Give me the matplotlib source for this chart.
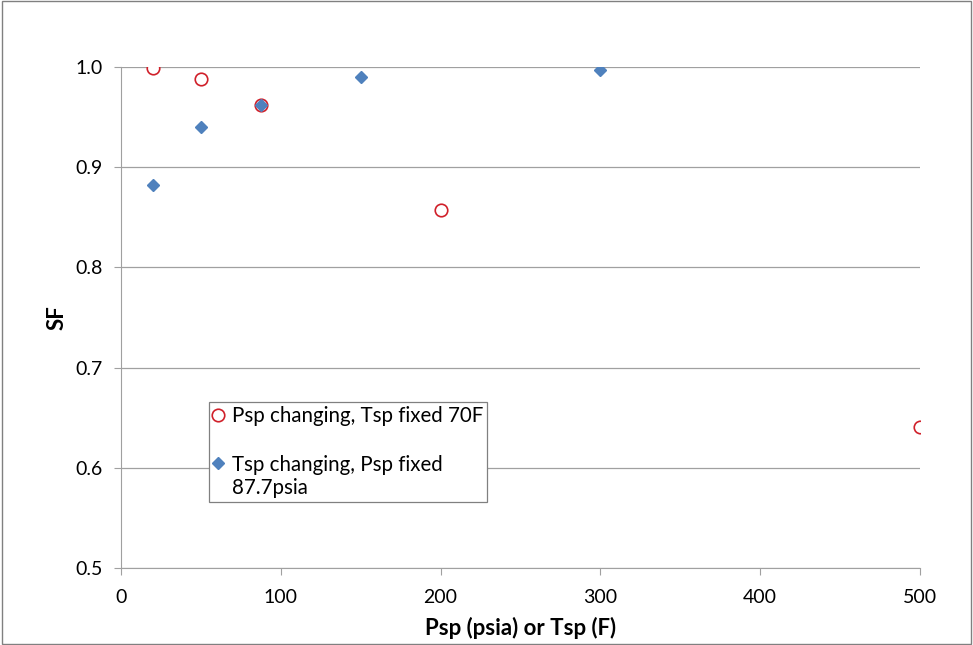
import matplotlib.pyplot as plt

plt.rcParams['font.family'] = ['Lato', 'DejaVu Sans']

# Psp changing, Tsp fixed 70F
psp_x = [20, 50, 87.7, 200, 500]
psp_sf = [0.999, 0.988, 0.962, 0.857, 0.641]

# Tsp changing, Psp fixed 87.7psia
tsp_x = [20, 50, 87.7, 150, 300]
tsp_sf = [0.882, 0.940, 0.962, 0.990, 0.997]

fig = plt.figure(figsize=(9.73, 6.45), dpi=100)
ax = fig.add_axes([121/973, 1 - 568/645, 799/973, 501/645])

ax.plot(psp_x, psp_sf, linestyle='none', marker='o', markersize=9,
        markerfacecolor='white', markeredgecolor='#D0202A', markeredgewidth=1.2,
        label='Psp changing, Tsp fixed 70F', zorder=3)
ax.plot(tsp_x, tsp_sf, linestyle='none', marker='D', markersize=6,
        markerfacecolor='#4F81BD', markeredgecolor='#4F81BD',
        label='Tsp changing, Psp fixed\n87.7psia', zorder=4)

ax.set_xlim(0, 500)
ax.set_ylim(0.5, 1.0)
ax.set_xticks([0, 100, 200, 300, 400, 500])
ax.set_yticks([0.5, 0.6, 0.7, 0.8, 0.9, 1.0])
ax.set_yticklabels(['0.5', '0.6', '0.7', '0.8', '0.9', '1.0'])
ax.yaxis.grid(True, color='#A0A0A0', linewidth=0.9)
ax.set_axisbelow(True)
for s in ['top', 'right']:
    ax.spines[s].set_visible(False)
for s in ['left', 'bottom']:
    ax.spines[s].set_color('#A0A0A0')
ax.tick_params(axis='both', colors='#A0A0A0', labelcolor='black', labelsize=14, length=5)
ax.tick_params(axis='x', pad=10)
ax.tick_params(axis='y', pad=8)

ax.set_xlabel('Psp (psia) or Tsp (F)', fontsize=16, fontweight='bold', labelpad=8)
ax.set_ylabel('SF', fontsize=16, fontweight='bold', labelpad=6)

leg = ax.legend(loc='lower left', bbox_to_anchor=(0.11, 0.132), fontsize=14.8,
                frameon=True, fancybox=False, edgecolor='#808080', framealpha=1,
                handlelength=0.5, handletextpad=0.4, labelspacing=1.4,
                borderpad=0.2, borderaxespad=0)
leg.get_frame().set_linewidth(0.9)
for t in leg.get_texts():
    t.set_linespacing(1.2)
# put the diamond on the first line of the wrapped label
h = leg.legend_handles[1]
h.set_ydata([y + 10 for y in h.get_ydata()])

fig.patches.append(plt.Rectangle((0.002, 0.002), 0.996, 0.996, transform=fig.transFigure,
                                 fill=False, edgecolor='#808080', linewidth=1))

fig.savefig('out.png', dpi=100)
